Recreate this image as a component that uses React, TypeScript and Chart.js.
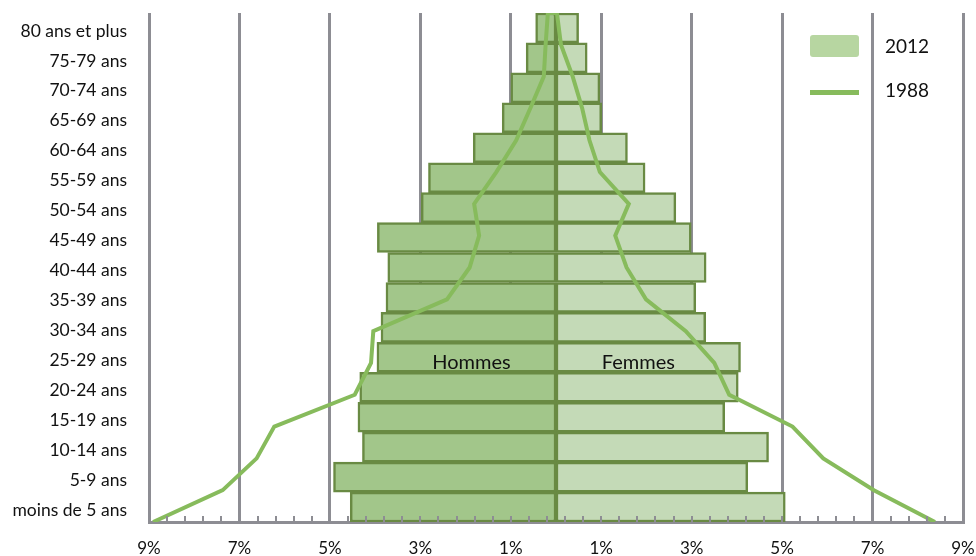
import React, { useEffect, useRef } from 'react';
import { Chart, registerables } from 'chart.js';

Chart.register(...registerables);

// Age groups, top to bottom
const ageGroups = [
  '80 ans et plus', '75-79 ans', '70-74 ans', '65-69 ans', '60-64 ans', '55-59 ans',
  '50-54 ans', '45-49 ans', '40-44 ans', '35-39 ans', '30-34 ans', '25-29 ans',
  '20-24 ans', '15-19 ans', '10-14 ans', '5-9 ans', 'moins de 5 ans',
];

// 2012 shares (%), top to bottom
const hommes2012 = [0.45, 0.66, 1.0, 1.19, 1.83, 2.82, 2.98, 3.95, 3.72, 3.76, 3.87, 3.96, 4.34, 4.38, 4.28, 4.92, 4.55];
const femmes2012 = [0.5, 0.69, 0.97, 1.01, 1.58, 1.97, 2.65, 2.99, 3.32, 3.09, 3.31, 4.08, 4.03, 3.73, 4.7, 4.24, 5.07];

// 1988 shares (%), men from bottom group to top, women from top group to bottom
const hommes1988 = [8.91, 7.37, 6.62, 6.23, 4.45, 4.09, 4.04, 2.41, 1.91, 1.7, 1.81, 1.32, 0.88, 0.57, 0.27, 0.23, 0.18];
const femmes1988 = [0.02, 0.11, 0.37, 0.58, 0.74, 0.97, 1.61, 1.31, 1.56, 1.99, 2.87, 3.5, 3.83, 5.23, 5.91, 7.03, 8.38];

const xTicks = [-9, -7, -5, -3, -1, 1, 3, 5, 7, 9];
const minorStep = 0.4;

const sideLabels = ['Hommes', 'Femmes'];
const sideLabelValues = [-1.87, 1.82];
const sideLabelRow = '25-29 ans';

const FONT = 'Lato, "Open Sans", sans-serif';
const GRID = '#8d8d93';
const MALE = '#a2c68a';
const FEMALE = '#c4dab7';
const EDGE = '#698a43';
const LINE = '#87bb5c';

const overlayPlugin = {
  id: 'overlay',
  afterDatasetsDraw(chart: any) {
    const { ctx, chartArea, scales } = chart;
    const x = scales.x;
    const y = scales.y;
    ctx.save();
    // minor ticks
    ctx.strokeStyle = GRID;
    ctx.lineWidth = 2;
    const n = Math.round((x.max - x.min) / minorStep);
    for (let i = 1; i < n; i++) {
      const v = x.min + i * minorStep;
      const px = Math.round(x.getPixelForValue(v));
      ctx.beginPath();
      ctx.moveTo(px, chartArea.bottom);
      ctx.lineTo(px, chartArea.bottom - 6);
      ctx.stroke();
    }
    // side labels
    ctx.fillStyle = '#111';
    ctx.font = '20px ' + FONT;
    ctx.textAlign = 'center';
    ctx.textBaseline = 'middle';
    const rowIdx = ageGroups.indexOf(sideLabelRow);
    const py = y.getPixelForValue(rowIdx) + 5;
    sideLabels.forEach((t, i) => {
      ctx.fillText(t, x.getPixelForValue(sideLabelValues[i]), py);
    });
    ctx.restore();
  },
};

export default function App() {
  const canvasRef = useRef<HTMLCanvasElement | null>(null);

  useEffect(() => {
    if (!canvasRef.current) return;
    const linePoints = [
      ...hommes1988.map((v, i) => ({ x: -v, y: i })),
      ...femmes1988.map((v, i) => ({ x: v, y: femmes1988.length - 1 - i })),
    ];
    const chart = new Chart(canvasRef.current, {
      type: 'bar',
      data: {
        labels: ageGroups,
        datasets: [
          {
            type: 'line',
            label: '1988',
            data: linePoints as any,
            xAxisID: 'x',
            yAxisID: 'y2',
            indexAxis: 'y',
            borderColor: LINE,
            borderWidth: 4,
            pointRadius: 0,
            tension: 0,
            fill: false,
            order: 0,
          } as any,
          {
            label: 'Hommes 2012',
            data: hommes2012.map((v) => -v),
            backgroundColor: MALE,
            borderColor: EDGE,
            borderWidth: 2.5,
            borderSkipped: false,
            barPercentage: 1,
            categoryPercentage: 1,
            grouped: false,
            order: 1,
          } as any,
          {
            label: 'Femmes 2012',
            data: femmes2012,
            backgroundColor: FEMALE,
            borderColor: EDGE,
            borderWidth: 2.5,
            borderSkipped: false,
            barPercentage: 1,
            categoryPercentage: 1,
            grouped: false,
            order: 1,
          } as any,
        ],
      },
      options: {
        indexAxis: 'y',
        animation: false,
        responsive: true,
        maintainAspectRatio: false,
        layout: { padding: { top: 13, right: 13, left: 0, bottom: 0 } },
        plugins: { legend: { display: false }, tooltip: { enabled: false } },
        scales: {
          x: {
            type: 'linear',
            min: -9,
            max: 9,
            afterBuildTicks: (s: any) => {
              s.ticks = xTicks.map((v) => ({ value: v }));
            },
            afterFit: (s: any) => {
              s.height = 34;
              s.paddingLeft = 0;
              s.paddingRight = 0;
            },
            ticks: {
              callback: (v: any) => Math.abs(Number(v)) + '%',
              font: { family: FONT, size: 17 },
              color: '#111',
              padding: 16,
              maxRotation: 0,
              autoSkip: false,
            },
            grid: { color: GRID, lineWidth: 3, drawTicks: false },
            border: { display: true, color: GRID, width: 3 },
          },
          y: {
            type: 'category',
            afterFit: (s: any) => {
              s.width = 149;
              s.paddingTop = 0;
              s.paddingBottom = 0;
            },
            ticks: {
              font: { family: FONT, size: 17.5 },
              color: '#111',
              padding: 14,
              labelOffset: 3,
              autoSkip: false,
            },
            grid: { display: false },
            border: { display: false },
          },
          y2: {
            type: 'linear',
            display: false,
            offset: false,
            grace: 0,
            min: 0,
            max: hommes1988.length - 1,
          },
        },
      } as any,
      plugins: [overlayPlugin],
    });
    return () => chart.destroy();
  }, []);

  const legendText: React.CSSProperties = {
    position: 'absolute',
    left: 885,
    fontFamily: FONT,
    fontSize: 19,
    color: '#111',
    lineHeight: '22px',
  };

  return (
    <div style={{ position: 'fixed', left: 0, top: 0, width: 976, height: 556, background: '#fff' }}>
      <canvas ref={canvasRef} />
      <div style={{ position: 'absolute', left: 810, top: 35, width: 49, height: 22, background: '#b7d6a1', borderRadius: 3 }} />
      <div style={{ ...legendText, top: 35 }}>2012</div>
      <div style={{ position: 'absolute', left: 810, top: 90, width: 49, height: 5, background: LINE }} />
      <div style={{ ...legendText, top: 79 }}>1988</div>
    </div>
  );
}
